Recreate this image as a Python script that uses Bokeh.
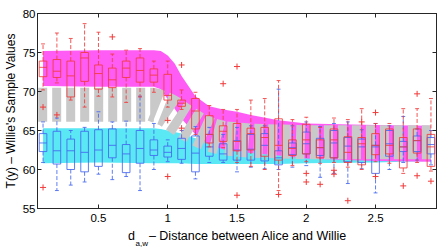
import math
from bokeh.plotting import figure
from bokeh.models import Range1d, LinearAxis, FixedTicker, Label
from bokeh.embed import file_html
from bokeh.resources import INLINE

# ---------------- data ----------------
positions = [0.1, 0.2, 0.3, 0.4, 0.5, 0.6, 0.7, 0.8, 0.9, 1.0,
             1.1, 1.2, 1.3, 1.4, 1.5, 1.6, 1.7, 1.8, 1.9, 2.0,
             2.1, 2.2, 2.3, 2.4, 2.5, 2.6, 2.7, 2.8, 2.9]

# red boxes (Alice transmitting)
red_q1 = [71.9, 71.8, 69.3, 71.3, 70.3, 70.5, 71.8, 71.2, 71.2, 68.9,
          68.1, 65.2, 63.4, 63.6, 62.4, 62.5, 61.7, 61.2, 61.8, 62.0,
          61.5, 61.5, 60.9, 60.6, 61.9, 62.0, 60.2, 62.1, 60.4]
red_med = [73.1, 72.6, 72.0, 74.3, 72.3, 71.5, 73.0, 72.7, 72.1, 69.5,
           68.5, 67.5, 64.5, 64.9, 63.6, 64.6, 64.1, 63.1, 62.7, 63.8,
           62.8, 63.8, 62.2, 63.3, 63.1, 63.1, 62.9, 63.7, 62.9]
red_q3 = [73.9, 74.1, 73.9, 75.0, 73.4, 73.0, 73.9, 74.3, 72.9, 72.2,
          68.9, 69.1, 66.9, 65.6, 65.9, 65.3, 65.4, 66.5, 63.8, 65.8,
          63.8, 65.2, 64.2, 64.1, 64.6, 65.2, 64.1, 65.2, 64.5]
red_lo = [70.2, 71.1, 68.9, 68.0, 69.4, 69.3, 68.6, 69.3, 69.9, 68.0,
          67.7, 64.5, 62.9, 62.8, 60.9, 60.4, 60.0, 57.3, 60.5, 61.0,
          60.8, 60.9, 60.3, 60.0, 61.0, 60.8, 59.5, 60.9, 59.8]
red_hi = [76.1, 77.5, 76.8, 78.7, 77.6, 74.8, 75.3, 75.5, 73.9, 73.9,
          70.2, 69.9, 68.2, 67.7, 67.7, 68.9, 69.1, 71.4, 66.4, 66.7,
          65.4, 66.6, 66.4, 67.8, 65.9, 65.9, 67.8, 67.8, 69.1]
red_out_x = [0.1, 0.1, 0.2, 0.6, 1.0, 1.0, 1.1, 1.1, 1.4, 1.5, 1.5, 1.8,
             2.0, 2.0, 2.1, 2.2, 2.2, 2.3, 2.4, 2.5, 2.5, 2.7, 2.8, 2.8, 2.9]
red_out_y = [68.0, 57.7, 67.0, 77.0, 66.3, 59.1, 73.4, 65.3, 71.0, 73.2, 56.7, 56.8,
             59.5, 58.4, 58.1, 59.9, 59.4, 56.0, 66.1, 67.3, 59.1, 57.9, 69.7, 59.2, 58.5]

# blue boxes (Alice silent)
blue_q1 = [62.3, 60.7, 60.0, 59.7, 60.4, 61.5, 59.6, 60.8, 61.8, 61.6,
           61.3, 59.7, 61.7, 61.2, 61.2, 61.2, 61.1, 60.6, 61.9, 62.0,
           61.8, 61.5, 61.0, 60.9, 59.5, 61.7, 62.3, 62.3, 62.0]
blue_med = [63.4, 62.4, 62.4, 62.2, 62.5, 63.1, 62.0, 62.7, 62.5, 62.2,
            62.7, 62.1, 62.9, 62.0, 62.5, 62.6, 63.1, 61.5, 62.8, 63.3,
            62.8, 63.4, 63.0, 62.9, 62.9, 63.3, 62.9, 63.7, 63.2]
blue_q3 = [64.6, 64.9, 63.9, 64.9, 65.1, 65.2, 63.2, 65.0, 63.8, 63.0,
           64.0, 64.3, 64.5, 63.3, 63.7, 64.5, 64.6, 62.4, 63.4, 64.8,
           64.0, 65.0, 64.1, 63.9, 63.1, 65.0, 63.6, 64.3, 64.1]
blue_lo = [60.9, 57.3, 58.0, 58.4, 59.4, 58.7, 59.1, 57.3, 60.0, 61.0,
           60.8, 58.8, 60.9, 60.9, 59.7, 60.3, 60.1, 60.0, 60.3, 60.5,
           59.0, 59.5, 58.2, 60.1, 57.0, 60.0, 60.9, 61.2, 60.6]
blue_hi = [66.1, 66.6, 65.0, 65.4, 67.4, 66.1, 66.2, 69.4, 65.9, 63.8,
           65.0, 65.5, 65.4, 64.5, 65.4, 65.6, 65.6, 70.3, 65.6, 66.1,
           65.5, 65.9, 66.1, 65.1, 65.9, 65.6, 66.8, 65.2, 65.0]

# shaded bands and threshold line
band_x = [0.1, 0.5, 0.9, 0.95, 1.0, 1.05, 1.1, 1.2, 1.3, 1.4, 1.5, 1.6, 1.8, 2.0, 2.5, 2.9]
magenta_hi = [75.2, 75.3, 75.3, 75.2, 74.6, 73.6, 72.0, 69.4, 68.1, 67.7, 67.4, 67.0, 66.3, 65.9, 65.7, 65.6]
magenta_lo = [70.7, 70.6, 70.6, 70.3, 69.0, 67.8, 66.5, 64.5, 63.2, 62.6, 62.3, 62.1, 61.8, 61.4, 61.1, 61.0]
cyan_hi = [65.3, 65.3, 65.3, 65.2, 65.0, 64.8, 64.6, 64.0, 63.7, 63.4, 63.2, 63.0, 62.8, 62.6, 62.3, 62.2]
cyan_lo = [60.8, 60.9, 60.8, 60.8, 60.8, 60.8, 60.8, 60.7, 60.7, 60.7, 60.7, 60.7, 60.7, 60.8, 60.9, 61.1]
thr_x = [0.065, 0.9, 1.0, 1.1, 1.2, 1.3, 1.4, 1.6, 2.0, 2.92]
thr_y = [68.3, 68.3, 67.6, 66.4, 65.3, 64.5, 64.0, 63.7, 63.5, 63.5]

xticks = [0.5, 1.0, 1.5, 2.0, 2.5]
xtick_labels = ["0.5", "1", "1.5", "2", "2.5"]
yticks = [55, 60, 65, 70, 75, 80]
y_title = "T(y) \u2013 Willie's Sample Values"
x_title = "d\u00a0\u00a0\u00a0\u00a0\u2013 Distance between Alice and Willie"
x_title_sub = "a,w"

# ---------------- figure ----------------
FONT = "Liberation Sans"
p = figure(width=444, height=249, x_range=Range1d(0.06, 2.94), y_range=Range1d(55, 80),
           output_backend="svg", toolbar_location=None,
           min_border_left=36, min_border_right=8, min_border_top=13, min_border_bottom=41)
p.grid.visible = False
p.outline_line_color = "#262626"
p.outline_line_width = 1

for ax in (p.xaxis[0], p.yaxis[0]):
    ax.axis_line_color = "#262626"
    ax.major_tick_in = 4
    ax.major_tick_out = 0
    ax.minor_tick_line_color = None
    ax.major_tick_line_color = "#262626"
    ax.major_label_text_font = FONT
    ax.major_label_text_font_size = "11.5px"
    ax.major_label_text_color = "black"
    ax.axis_label_text_font = FONT
    ax.axis_label_text_font_style = "normal"
    ax.axis_label_text_color = "black"
p.xaxis.ticker = FixedTicker(ticks=xticks)
p.xaxis.major_label_overrides = {t: l for t, l in zip(xticks, xtick_labels)}
p.xaxis.major_label_standoff = 5
p.yaxis.ticker = FixedTicker(ticks=yticks)
p.yaxis.major_label_standoff = 2
p.yaxis.axis_label = y_title
p.yaxis.axis_label_text_font_size = "12px"
p.yaxis.axis_label_standoff = 2

top_ax = LinearAxis(ticker=FixedTicker(ticks=xticks), major_label_text_font_size="0px",
                    major_label_standoff=0, major_tick_in=4, major_tick_out=0,
                    minor_tick_line_color=None, axis_line_color="#262626",
                    major_tick_line_color="#262626")
right_ax = LinearAxis(ticker=FixedTicker(ticks=yticks), major_label_text_font_size="0px",
                      major_label_standoff=0, major_tick_in=4, major_tick_out=0,
                      minor_tick_line_color=None, axis_line_color="#262626",
                      major_tick_line_color="#262626")
p.add_layout(top_ax, "above")
p.add_layout(right_ax, "right")

# bands
p.varea(x=band_x, y1=cyan_lo, y2=cyan_hi, fill_color="#5ae8f4")
p.varea(x=band_x, y1=magenta_lo, y2=magenta_hi, fill_color="#ff5cf5")
p.line(x=thr_x, y=thr_y, line_color="#c9c9c9", line_width=34, line_dash="9 5",
       line_join="bevel", line_cap="butt")

W = 0.055
CAP = 0.028


def boxes(q1, med, q3, lo, hi, color):
    lw = 1
    p.segment(x0=positions, x1=positions, y0=q3, y1=hi, line_color=color,
              line_dash="4 2", line_width=lw, line_alpha=0.85)
    p.segment(x0=positions, x1=positions, y0=q1, y1=lo, line_color=color,
              line_dash="4 2", line_width=lw, line_alpha=0.85)
    left_c = [x - CAP / 2 for x in positions]
    right_c = [x + CAP / 2 for x in positions]
    p.segment(x0=left_c, x1=right_c, y0=hi, y1=hi, line_color=color, line_width=lw, line_alpha=0.85)
    p.segment(x0=left_c, x1=right_c, y0=lo, y1=lo, line_color=color, line_width=lw, line_alpha=0.85)
    p.vbar(x=positions, width=W, bottom=q1, top=q3, fill_color=None,
           line_color=color, line_width=lw, line_alpha=0.85)
    left_b = [x - W / 2 for x in positions]
    right_b = [x + W / 2 for x in positions]
    p.segment(x0=left_b, x1=right_b, y0=med, y1=med, line_color=color, line_width=lw, line_alpha=0.85)


boxes(blue_q1, blue_med, blue_q3, blue_lo, blue_hi, "#4466f0")
boxes(red_q1, red_med, red_q3, red_lo, red_hi, "#f23a3a")
p.scatter(x=red_out_x, y=red_out_y, marker="cross", size=6, line_color="#f23a3a", line_width=1)

# x-axis title (bottom panel) and its subscript (via top panel, moved down)
p.add_layout(Label(x=200, y=0, x_units="screen", y_units="screen", text=x_title,
                   y_offset=3, text_font=FONT, text_font_size="12.5px", text_align="center",
                   text_baseline="alphabetic", text_color="black"), "below")
p.add_layout(Label(x=98, y=0, x_units="screen", y_units="screen", text=x_title_sub,
                   y_offset=-230, text_font=FONT, text_font_size="8px",
                   text_baseline="alphabetic", text_color="black"), "above")

open("out.html", "w").write(file_html(p, INLINE))
